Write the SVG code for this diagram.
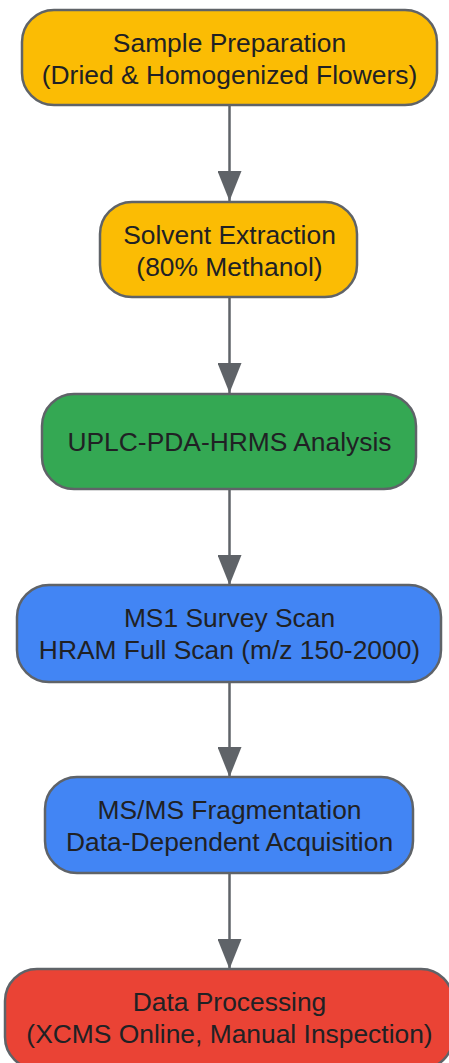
<svg xmlns="http://www.w3.org/2000/svg" width="449" height="1063" viewBox="0 0 449 1063">
<style>
.n rect{stroke:#5f6368;stroke-width:2.5}
.n text{font-family:"Liberation Sans",Arial,sans-serif;font-size:26.4px;fill:#202124;text-anchor:middle}
.y{fill:#fbbc04}.g{fill:#34a853}.b{fill:#4285f4}.r{fill:#ea4335}
.e line{stroke:#5f6368;stroke-width:2.5}
</style>
<defs>
<marker id="ah" viewBox="0 0 30 24" refX="30" refY="12" markerWidth="30" markerHeight="24" markerUnits="userSpaceOnUse" orient="auto">
<path d="M0,0 L30,12 L0,24 Z" fill="#5f6368"/>
</marker>
</defs>
<rect width="449" height="1063" fill="#ffffff"/>
<g class="e">
<line x1="229.5" y1="105" x2="229.5" y2="201" marker-end="url(#ah)"/>
<line x1="229.5" y1="297" x2="229.5" y2="393" marker-end="url(#ah)"/>
<line x1="229.5" y1="490" x2="229.5" y2="585" marker-end="url(#ah)"/>
<line x1="229.5" y1="682" x2="229.5" y2="777" marker-end="url(#ah)"/>
<line x1="229.5" y1="873" x2="229.5" y2="969" marker-end="url(#ah)"/>
</g>
<g class="n" id="n1"><rect class="y" x="22" y="10" width="415" height="95" rx="32"/><text x="229.5" y="52">Sample Preparation</text><text x="229.5" y="84">(Dried &amp; Homogenized Flowers)</text></g>
<g class="n" id="n2"><rect class="y" x="100" y="202" width="257" height="95" rx="32"/><text x="229.5" y="244">Solvent Extraction</text><text x="229.5" y="276">(80% Methanol)</text></g>
<g class="n" id="n3"><rect class="g" x="42" y="394" width="374" height="95" rx="32"/><text x="229.5" y="451">UPLC-PDA-HRMS Analysis</text></g>
<g class="n" id="n4"><rect class="b" x="17" y="585" width="424" height="97" rx="32"/><text x="229.5" y="627">MS1 Survey Scan</text><text x="229.5" y="659">HRAM Full Scan (m/z 150-2000)</text></g>
<g class="n" id="n5"><rect class="b" x="45" y="777" width="368" height="96" rx="32"/><text x="229.5" y="819">MS/MS Fragmentation</text><text x="229.5" y="851">Data-Dependent Acquisition</text></g>
<g class="n" id="n6"><rect class="r" x="5" y="969" width="448" height="100" rx="32"/><text x="229.5" y="1011">Data Processing</text><text x="229.5" y="1043">(XCMS Online, Manual Inspection)</text></g>
</svg>
